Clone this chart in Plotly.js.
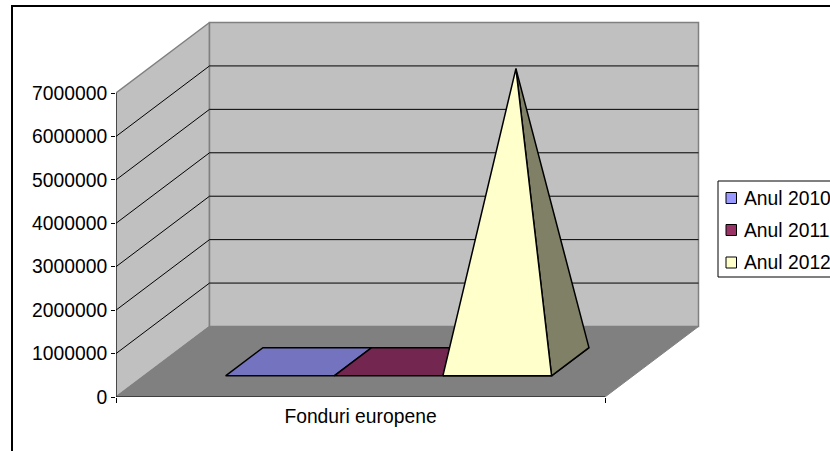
<!DOCTYPE html>
<html>
<head>
<meta charset="utf-8">
<script src="https://cdn.plot.ly/plotly-3.0.1.min.js"></script>
<style>html,body{margin:0;padding:0;background:#fff;overflow:hidden}</style>
</head>
<body>
<div id="chart" style="width:830px;height:451px"></div>
<script>
// Data
var category = "Fonduri europene";
var seriesNames = ["Anul 2010", "Anul 2011", "Anul 2012"];
var seriesValues = [0, 0, 6750000];
var yTicks = [0, 1000000, 2000000, 3000000, 4000000, 5000000, 6000000, 7000000];

// Styles
var legendColors = ["#9999FF", "#993366", "#FFFFCC"];
var floorColors = ["#7373BF", "#732650", "#FFFFCC"];
var sideColors = ["#7373BF", "#732650", "#808066"];

// Front plane in pixels, and the wider plot area that holds the oblique depth
var W = 830, H = 451, L = 116, R = 605, B = 397, T = 93;
var areaR = 705, areaT = 15;
var yMax = 7000000;
var xTop = (areaR - L) / (R - L);
var yTop = (B - areaT) / (B - T) * yMax;
var depthX = 93.5 / (R - L);          // oblique depth as axis fractions
var depthY = 70.5 / (B - T) * yMax;   // oblique depth in value units
var barW = 1 / 4.5, gap = 0.75 * barW;
var depthNear = 0.3, depthFar = 0.7;

function proj(f, d, v) { return [f + d * depthX, v + d * depthY]; }
function poly(points, fill, lineColor, width) {
  var pts = points.concat([points[0]]);
  return {
    type: "scatter", mode: "lines", x: pts.map(function (p) { return p[0]; }),
    y: pts.map(function (p) { return p[1]; }), fill: "toself", fillcolor: fill,
    line: { color: lineColor, width: width },
    hoverinfo: "skip", showlegend: false
  };
}
function seg(a, b, color, width) {
  return {
    type: "scatter", mode: "lines", x: [a[0], b[0]], y: [a[1], b[1]],
    line: { color: color, width: width },
    hoverinfo: "skip", showlegend: false
  };
}

var traces = [];
// walls and floor
traces.push(poly([proj(0, 0, 0), proj(0, 1, 0), proj(0, 1, yMax), proj(0, 0, yMax)], "#C0C0C0", "#808080", 1.5));
traces.push(poly([proj(0, 1, 0), proj(1, 1, 0), proj(1, 1, yMax), proj(0, 1, yMax)], "#C0C0C0", "#808080", 1.5));
traces.push(poly([proj(0, 0, 0), proj(1, 0, 0), proj(1, 1, 0), proj(0, 1, 0)], "#808080", "#808080", 1));
// grid lines
yTicks.forEach(function (v) {
  if (v === 0 || v === yMax) return;
  traces.push(seg(proj(0, 0, v), proj(0, 1, v), "#000000", 1));
  traces.push(seg(proj(0, 1, v), proj(1, 1, v), "#000000", 1));
});
// pyramids
seriesValues.forEach(function (v, i) {
  var f0 = gap + i * barW, f1 = f0 + barW;
  var fl = proj(f0, depthNear, 0), fr = proj(f1, depthNear, 0);
  var bl = proj(f0, depthFar, 0), br = proj(f1, depthFar, 0);
  traces.push(poly([fl, fr, br, bl], floorColors[i], "#000000", 1.5));
  if (v > 0) {
    var apex = proj((f0 + f1) / 2, 0.5, v);
    traces.push(poly([fr, br, apex], sideColors[i], "#000000", 1.5));
    traces.push(poly([fl, fr, apex], floorColors[i], "#000000", 1.5));
  }
});
// axis lines: only the front plane carries them
traces.push(seg([0, 0], [0, yMax], "#000000", 1));
traces.push(seg([0, 0], [1, 0], "#000000", 1));

function px(x) { return (x - L) / (areaR - L); }
function py(y) { return (B - y) / (B - areaT); }

var fontFam = "Liberation Sans, Arial, sans-serif";
var shapes = [
  // chart frame
  { type: "rect", xref: "paper", yref: "paper", x0: px(12), x1: px(900), y0: py(600), y1: py(6),
    line: { color: "#000000", width: 2 }, fillcolor: "rgba(0,0,0,0)", layer: "below" },
  // legend box
  { type: "rect", xref: "paper", yref: "paper", x0: px(718), x1: px(900), y0: py(277), y1: py(181),
    line: { color: "#000000", width: 1 }, fillcolor: "#FFFFFF", layer: "below" }
];
var rowY = [198, 230, 262.5];
var annotations = [];
seriesNames.forEach(function (name, i) {
  shapes.push({ type: "rect", xref: "paper", yref: "paper", x0: px(726), x1: px(736.5),
    y0: py(rowY[i] + 5.5), y1: py(rowY[i] - 5.5),
    line: { color: "#000000", width: 1 }, fillcolor: legendColors[i] });
  annotations.push({ xref: "paper", yref: "paper", x: px(744), y: py(rowY[i]), xanchor: "left", yanchor: "middle",
    text: name, showarrow: false, borderpad: 0, xshift: -1,
    font: { family: fontFam, size: 19.3, color: "#000000" } });
});

var layout = {
  width: W, height: H,
  margin: { l: L, r: W - areaR, t: areaT, b: H - B, pad: 0 },
  paper_bgcolor: "#FFFFFF", plot_bgcolor: "rgba(0,0,0,0)",
  showlegend: false,
  font: { family: fontFam, size: 19.3, color: "#000000" },
  xaxis: {
    range: [0, xTop], tickmode: "array", tickvals: [0.5], ticktext: [category],
    ticks: "", showgrid: false, zeroline: false, showline: false,
    ticklabelstandoff: 6, fixedrange: true,
    minor: { tickmode: "array", tickvals: [0, 1], ticks: "outside", ticklen: 5, tickcolor: "#000000", tickwidth: 1, showgrid: false }
  },
  yaxis: {
    range: [0, yTop], tickmode: "array", tickvals: yTicks, ticktext: yTicks.map(String),
    ticks: "outside", ticklen: 4, tickcolor: "#000000", tickwidth: 1,
    showgrid: false, zeroline: false, showline: false, fixedrange: true
  },
  shapes: shapes,
  annotations: annotations
};
Plotly.newPlot("chart", traces, layout, { staticPlot: true, displayModeBar: false });
</script>
</body>
</html>
